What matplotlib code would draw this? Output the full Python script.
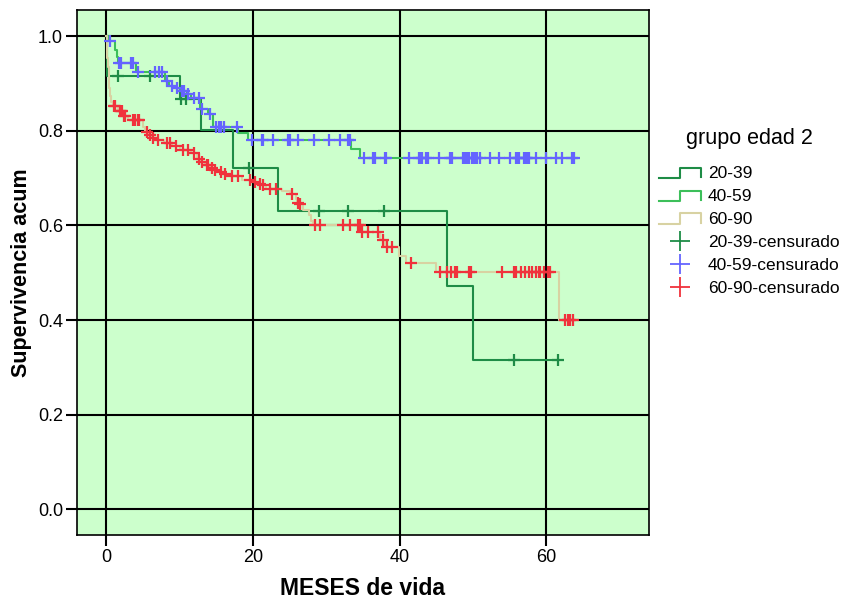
import numpy as np
import matplotlib
matplotlib.use("Agg")
import matplotlib.pyplot as plt
from matplotlib.lines import Line2D
from matplotlib.legend_handler import HandlerBase

plt.rcParams['font.family'] = ['Liberation Sans', 'DejaVu Sans']

# Kaplan-Meier steps per age group: event times and survival after each event
t_2039 = [0.0, 0.1, 10.1, 12.9, 17.3, 23.4, 46.4, 50.0]
s_2039 = [1.0, 0.917, 0.867, 0.802, 0.721, 0.631, 0.473, 0.315]
c_2039 = [1.6, 5.9, 10.2, 10.8, 19.4, 29.0, 33.0, 37.8, 55.6, 61.6]

t_4059 = [0.0, 0.3, 1.2, 1.4, 1.6, 4.0, 8.0, 8.6, 9.3, 10.0, 11.0, 11.5,
          12.8, 13.8, 14.5, 18.0, 19.3, 33.3, 34.6]
s_4059 = [1.0, 0.99, 0.972, 0.956, 0.944, 0.925, 0.906, 0.896, 0.892, 0.885,
          0.878, 0.870, 0.846, 0.835, 0.809, 0.795, 0.781, 0.761, 0.742]
c_4059 = [0.5, 1.7, 2.0, 3.3, 3.7, 4.3, 6.7, 7.2, 7.6, 8.3, 8.9, 9.6, 10.3,
          10.6, 11.2, 11.9, 12.6, 13.0, 14.1, 14.9, 15.3, 15.7, 16.0, 17.8,
          19.8, 21.2, 21.4, 22.7, 24.8, 25.0, 26.2, 28.3, 30.3, 31.9, 33.0,
          33.2, 35.2, 36.4, 36.6, 38.0, 38.2, 41.3, 42.7, 42.9, 43.1, 43.6,
          43.8, 45.3, 46.8, 47.0, 47.2, 48.6, 48.8, 49.1, 49.3, 49.5, 49.8,
          50.2, 50.4, 50.6, 50.9, 52.3, 53.5, 55.0, 55.9, 56.1, 56.3, 57.0,
          57.2, 57.4, 57.7, 58.6, 59.9, 61.3, 62.2, 63.5, 63.8]

t_6090 = [0.0, 0.1, 0.15, 0.2, 0.3, 0.4, 0.55, 0.7, 0.9, 1.6, 2.2, 3.0, 5.0,
          5.3, 5.7, 6.2, 6.8, 7.8, 9.0, 10.0, 11.5, 12.3, 12.9, 13.4, 14.2,
          14.6, 15.4, 16.0, 16.8, 18.5, 20.0, 20.7, 21.2, 21.8, 24.0, 25.0,
          25.8, 26.0, 26.3, 26.8, 27.6, 27.9, 28.2, 34.75, 37.3, 38.0, 39.9,
          40.9, 45.0, 61.7]
s_6090 = [1.0, 0.975, 0.955, 0.935, 0.910, 0.890, 0.874, 0.862, 0.852, 0.842,
          0.832, 0.824, 0.808, 0.798, 0.792, 0.786, 0.781, 0.775, 0.768, 0.760,
          0.754, 0.740, 0.734, 0.728, 0.722, 0.717, 0.713, 0.708, 0.704, 0.697,
          0.692, 0.688, 0.685, 0.678, 0.672, 0.667, 0.656, 0.648, 0.645, 0.632,
          0.623, 0.609, 0.600, 0.586, 0.570, 0.554, 0.536, 0.520, 0.502, 0.400]
c_6090 = [1.1, 1.2, 1.9, 2.0, 2.1, 2.45, 2.6, 3.7, 3.9, 4.3, 4.5, 5.5, 5.9,
          6.4, 7.1, 8.3, 8.7, 9.5, 10.5, 11.1, 11.9, 12.6, 13.0, 13.7, 13.9,
          14.4, 14.8, 15.7, 16.2, 17.1, 18.0, 19.6, 20.3, 21.0, 21.4, 22.3,
          23.2, 25.3, 26.2, 26.4, 28.4, 29.1, 32.3, 33.2, 34.3, 34.6, 34.9,
          35.7, 37.0, 37.7, 38.3, 39.0, 41.5, 45.5, 46.4, 47.0, 47.5, 47.8,
          49.5, 49.7, 54.0, 55.6, 55.8, 56.6, 57.1, 57.7, 58.1, 58.6, 59.0,
          59.2, 59.7, 60.2, 60.5, 62.5, 62.9, 63.2, 63.6]

groups = ['20-39', '40-59', '60-90']
line_colors = ['#1e8c46', '#3cbf5a', '#d8d2a2']
cens_colors = ['#1e8c46', '#6464ff', '#f0323c']


def surv_at(times, levels, t):
    idx = np.searchsorted(times, t, side='right') - 1
    return np.asarray(levels)[idx]


class StepHandler(HandlerBase):
    """Legend key drawn as a small survival step."""
    def create_artists(self, legend, orig_handle, xdescent, ydescent,
                       width, height, fontsize, trans):
        x0, x1 = -xdescent, -xdescent + width
        xm = x0 + 0.5 * width
        ylo = -ydescent + 0.0 * height
        yhi = -ydescent + 0.85 * height
        line = Line2D([x0, xm, xm, x1, x1], [ylo, ylo, yhi, yhi, ylo + 0.1 * height],
                      color=orig_handle.get_color(), lw=orig_handle.get_linewidth(),
                      transform=trans)
        return [line]


fig = plt.figure(figsize=(8.49, 5.99), dpi=100)
ax = fig.add_axes([0.0907, 0.1068, 0.6737, 0.8765])
ax.set_facecolor('#ccffcc')

series = [(t_2039, s_2039, c_2039), (t_4059, s_4059, c_4059), (t_6090, s_6090, c_6090)]

line_handles = []
for (t, s, c), col, name in zip(series, line_colors, groups):
    t_end = max(max(t), max(c))
    tt = list(t) + [t_end]
    ss = list(s) + [s[-1]]
    h, = ax.step(tt, ss, where='post', color=col, lw=1.5, zorder=3, label=name)
    line_handles.append(h)

for (t, s, c), col, name in zip(series, cens_colors, groups):
    cy = surv_at(t, s, np.array(c))
    ax.plot(c, cy, linestyle='none', marker='+', markersize=8.5,
            markeredgewidth=1.6, color=col, zorder=4,
            label=name + '-censurado')

ax.set_xlim(-4, 74)
ax.set_ylim(-0.055, 1.056)
ax.set_xticks([0, 20, 40, 60])
ax.set_yticks([0.0, 0.2, 0.4, 0.6, 0.8, 1.0])
ax.set_yticklabels(['0.0', '0.2', '0.4', '0.6', '0.8', '1.0'])
ax.grid(True, color='black', lw=1.5)
ax.set_axisbelow(True)
for sp in ax.spines.values():
    sp.set_linewidth(1.2)
ax.tick_params(direction='out', length=8, width=1.5, labelsize=13, pad=2)

ax.set_xlabel('MESES de vida', fontsize=16.5, fontweight='bold', labelpad=8)
ax.set_ylabel('Supervivencia acum', fontsize=15.5, fontweight='bold', labelpad=4)

# proxy artists for the censoring keys: bigger crosses than in the plot
proxies = [Line2D([], [], linestyle='none', marker='+', markersize=15,
                  markeredgewidth=1.3, color=col) for col in cens_colors]
leg = ax.legend(line_handles + proxies,
                groups + [g + '-censurado' for g in groups],
                handler_map={h: StepHandler() for h in line_handles},
                loc='upper left', bbox_to_anchor=(1.0, 0.795),
                frameon=False, fontsize=12.5, title='grupo edad 2',
                title_fontsize=15.5, handlelength=2.4, handletextpad=0.4,
                labelspacing=0.45, borderaxespad=0.2)
# more room between the title and the first entry
leg._legend_box.sep = 12

fig.savefig('out.png', dpi=100)
